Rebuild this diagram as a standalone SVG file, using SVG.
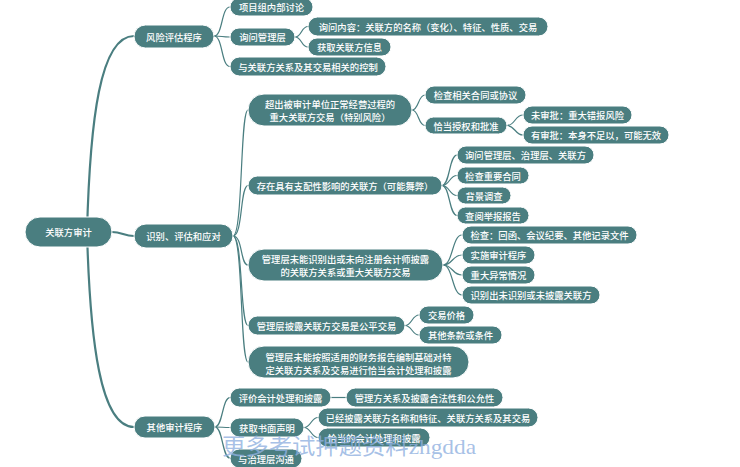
<svg xmlns="http://www.w3.org/2000/svg" width="740" height="467" viewBox="0 0 740 467">
<style>
.n rect{fill:#4a7e80;stroke:#ffffff;stroke-width:1}
.n text{fill:#ffffff;font-family:"Noto Sans CJK SC","Noto Sans",sans-serif;font-size:9.3px;font-weight:500;text-anchor:middle;dominant-baseline:central}
#connectors path{fill:none;stroke:#4a7e80;stroke-width:1.2}
#connectors path.trunk{stroke-width:2.2}
.wm{fill:#8fb0e0;fill-opacity:0.8;font-family:"Liberation Serif","Noto Sans CJK SC",serif;font-size:22px}
</style>
<rect width="740" height="467" fill="#ffffff"/>
<g id="connectors">
<path class="trunk" d="M87 232 C90 120,100 36,134 36"/>
<path class="trunk" d="M87 232 C90 340,100 427,134 427"/>
<path class="trunk" d="M112 232 C122 232,124 236,134 236"/>
<path d="M214 36 C223 36,221 7,230 7"/>
<path d="M214 36 C223 36,221 37,230 37"/>
<path d="M214 36 C223 36,221 66.5,230 66.5"/>
<path d="M295 37 C302 37,301 26.5,308 26.5"/>
<path d="M295 37 C302 37,301 47,308 47"/>
<path d="M233 236 C243 236,240 110,248 110"/>
<path d="M233 236 C243 236,240 185.5,248 185.5"/>
<path d="M233 236 C243 236,240 265,248 265"/>
<path d="M233 236 C243 236,240 325.5,248 325.5"/>
<path d="M233 236 C243 236,240 362,248 362"/>
<path d="M412 110 C419 110,418 95,425 95"/>
<path d="M412 110 C419 110,418 125.5,425 125.5"/>
<path d="M507 125.5 C515 125.5,515 115,523 115"/>
<path d="M507 125.5 C515 125.5,515 135,523 135"/>
<path d="M442 185.5 C450 185.5,449 155,457 155"/>
<path d="M442 185.5 C450 185.5,449 175.5,457 175.5"/>
<path d="M442 185.5 C450 185.5,449 195.5,457 195.5"/>
<path d="M442 185.5 C450 185.5,449 215.5,457 215.5"/>
<path d="M443 265 C453 265,452 235,462 235"/>
<path d="M443 265 C453 265,452 255,462 255"/>
<path d="M443 265 C453 265,452 275,462 275"/>
<path d="M443 265 C453 265,452 295,462 295"/>
<path d="M405 325.5 C412 325.5,412 315,419 315"/>
<path d="M405 325.5 C412 325.5,412 335,419 335"/>
<path d="M215 427 C223 427,222 397.5,230 397.5"/>
<path d="M215 427 C223 427,222 427.5,230 427.5"/>
<path d="M215 427 C223 427,222 458,230 458"/>
<path d="M331 397.5 L346 397.5"/>
<path d="M304 427.5 C311 427.5,311 417.5,318 417.5"/>
<path d="M304 427.5 C311 427.5,311 437.5,318 437.5"/>
</g>
<g id="root" class="n"><rect x="25" y="217" width="87" height="30" rx="15"/><text x="68.5" y="232">关联方审计</text></g>
<g id="n-risk" class="n"><rect x="134" y="25" width="80" height="23" rx="11.5"/><text x="174" y="36.5">风险评估程序</text></g>
<g id="n-risk-1" class="n"><rect x="230" y="-2" width="83" height="18" rx="9"/><text x="271.5" y="7">项目组内部讨论</text></g>
<g id="n-risk-2" class="n"><rect x="230" y="28" width="65" height="18" rx="9"/><text x="262.5" y="37">询问管理层</text></g>
<g id="n-risk-2a" class="n"><rect x="308" y="17" width="240" height="19" rx="9.5"/><text x="428" y="26.5">询问内容：关联方的名称（变化）、特征、性质、交易</text></g>
<g id="n-risk-2b" class="n"><rect x="308" y="38" width="83" height="18" rx="9"/><text x="349.5" y="47">获取关联方信息</text></g>
<g id="n-risk-3" class="n"><rect x="230" y="57" width="156" height="19" rx="9.5"/><text x="308" y="66.5">与关联方关系及其交易相关的控制</text></g>
<g id="n-ident" class="n"><rect x="134" y="224" width="99" height="24" rx="12"/><text x="183.5" y="236">识别、评估和应对</text></g>
<g id="n-ident-1" class="n"><rect x="248" y="94" width="164" height="32" rx="16"/><text x="330" y="103.5">超出被审计单位正常经营过程的</text><text x="330" y="117">重大关联方交易（特别风险）</text></g>
<g id="n-ident-1a" class="n"><rect x="425" y="86" width="101" height="18" rx="9"/><text x="475.5" y="95">检查相关合同或协议</text></g>
<g id="n-ident-1b" class="n"><rect x="425" y="117" width="82" height="17" rx="8.5"/><text x="466" y="125.5">恰当授权和批准</text></g>
<g id="n-ident-1b1" class="n"><rect x="523" y="106" width="109" height="18" rx="9"/><text x="577.5" y="115">未审批：重大错报风险</text></g>
<g id="n-ident-1b2" class="n"><rect x="523" y="126" width="146" height="18" rx="9"/><text x="596" y="135">有审批：本身不足以，可能无效</text></g>
<g id="n-ident-2" class="n"><rect x="248" y="176" width="194" height="19" rx="9.5"/><text x="345" y="185.5">存在具有支配性影响的关联方（可能舞弊）</text></g>
<g id="n-ident-2a" class="n"><rect x="457" y="146" width="137" height="18" rx="9"/><text x="525.5" y="155">询问管理层、治理层、关联方</text></g>
<g id="n-ident-2b" class="n"><rect x="457" y="167" width="72" height="17" rx="8.5"/><text x="493" y="175.5">检查重要合同</text></g>
<g id="n-ident-2c" class="n"><rect x="457" y="187" width="54" height="17" rx="8.5"/><text x="484" y="195.5">背景调查</text></g>
<g id="n-ident-2d" class="n"><rect x="457" y="207" width="72" height="17" rx="8.5"/><text x="493" y="215.5">查阅举报报告</text></g>
<g id="n-ident-3" class="n"><rect x="248" y="249" width="195" height="32" rx="16"/><text x="345.5" y="258.5">管理层未能识别出或未向注册会计师披露</text><text x="345.5" y="272">的关联方关系或重大关联方交易</text></g>
<g id="n-ident-3a" class="n"><rect x="462" y="226" width="175" height="18" rx="9"/><text x="549.5" y="235">检查：回函、会议纪要、其他记录文件</text></g>
<g id="n-ident-3b" class="n"><rect x="462" y="246" width="73" height="18" rx="9"/><text x="498.5" y="255">实施审计程序</text></g>
<g id="n-ident-3c" class="n"><rect x="462" y="266" width="73" height="18" rx="9"/><text x="498.5" y="275">重大异常情况</text></g>
<g id="n-ident-3d" class="n"><rect x="462" y="286" width="138" height="18" rx="9"/><text x="531" y="295">识别出未识别或未披露关联方</text></g>
<g id="n-ident-4" class="n"><rect x="248" y="316" width="157" height="19" rx="9.5"/><text x="326.5" y="325.5">管理层披露关联方交易是公平交易</text></g>
<g id="n-ident-4a" class="n"><rect x="419" y="306" width="55" height="18" rx="9"/><text x="446.5" y="315">交易价格</text></g>
<g id="n-ident-4b" class="n"><rect x="419" y="326" width="83" height="18" rx="9"/><text x="460.5" y="335">其他条款或条件</text></g>
<g id="n-ident-5" class="n"><rect x="248" y="346" width="221" height="32" rx="16"/><text x="358.5" y="356.5">管理层未能按照适用的财务报告编制基础对特</text><text x="358.5" y="370">定关联方关系及交易进行恰当会计处理和披露</text></g>
<g id="n-other" class="n"><rect x="134" y="416" width="81" height="22" rx="11"/><text x="174.5" y="427">其他审计程序</text></g>
<g id="n-other-1" class="n"><rect x="230" y="388" width="101" height="19" rx="9.5"/><text x="280.5" y="397.5">评价会计处理和披露</text></g>
<g id="n-other-1a" class="n"><rect x="346" y="388" width="157" height="19" rx="9.5"/><text x="424.5" y="397.5">管理方关系及披露合法性和公允性</text></g>
<g id="n-other-2" class="n"><rect x="230" y="418" width="74" height="19" rx="9.5"/><text x="267" y="427.5">获取书面声明</text></g>
<g id="n-other-2a" class="n"><rect x="318" y="408" width="220" height="19" rx="9.5"/><text x="428" y="417.5">已经披露关联方名称和特征、关联方关系及其交易</text></g>
<g id="n-other-2b" class="n"><rect x="318" y="428" width="112" height="19" rx="9.5"/><text x="374" y="437.5">恰当的会计处理和披露</text></g>
<g id="n-other-3" class="n"><rect x="230" y="449" width="72" height="19" rx="9.5"/><text x="266" y="458.5">与治理层沟通</text></g>
<text class="wm" x="222" y="454" textLength="254" lengthAdjust="spacingAndGlyphs">更多考试押题资料zhgdda</text>
</svg>
